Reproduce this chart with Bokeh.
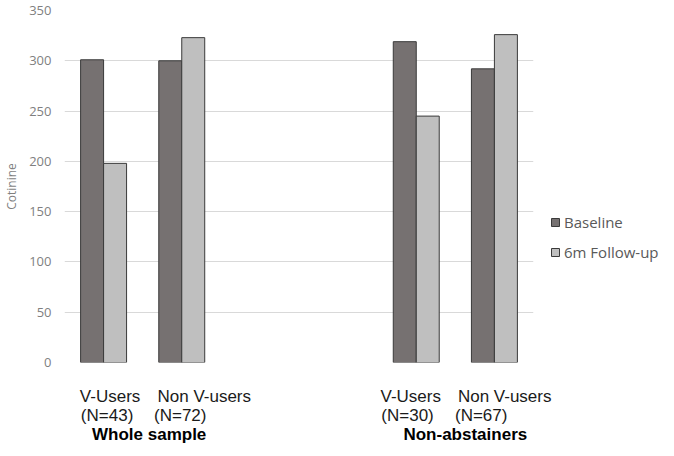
from bokeh.plotting import figure
from bokeh.models import Legend, LegendItem, FixedTicker, Range1d, ColumnDataSource, LinearAxis
from bokeh.embed import file_html
from bokeh.resources import INLINE

# ---- data ----
categories = ["V-Users", "Non V-users", "V-Users", "Non V-users"]
sample_sizes = ["(N=43)", "(N=72)", "(N=30)", "(N=67)"]
groups = ["Whole sample", "Non-abstainers"]
baseline = [301, 300, 319, 292]
followup = [198, 323, 245, 326]
series_names = ["Baseline", "6m Follow-up"]
y_ticks = [0, 50, 100, 150, 200, 250, 300, 350]

# ---- layout (slot units along x; 6 slots, two left empty between the groups) ----
slots = [0.5, 1.5, 4.5, 5.5]
half = 0.147
slot_px = 469 / 6.0
name_dx = [6.5, 22.5, -5.5, 10.3]     # px shifts of text blocks (as in the original)
size_dx = [3.5, -1.5, -8.7, -13.2]
group_dx = [6.5, 10.0]

src_b = ColumnDataSource(dict(x=[s - half for s in slots], top=baseline))
src_f = ColumnDataSource(dict(x=[s + half for s in slots], top=followup))

p = figure(frame_width=469, frame_height=352, output_backend="svg", toolbar_location=None,
           x_range=Range1d(0, 6), y_range=Range1d(0, 350), x_axis_type=None,
           min_border_left=63, min_border_top=10, min_border_bottom=78, min_border_right=126)
p.outline_line_color = None

rb = p.vbar(x="x", top="top", bottom=0, width=2 * half, source=src_b,
            fill_color="#767171", line_color="#3a3a3a", line_width=1)
rf = p.vbar(x="x", top="top", bottom=0, width=2 * half, source=src_f,
            fill_color="#bfbfbf", line_color="#3a3a3a", line_width=1)

p.xgrid.visible = False
p.ygrid.grid_line_color = "#d9d9d9"
p.ygrid.grid_line_width = 1

p.yaxis.ticker = FixedTicker(ticks=y_ticks)
p.yaxis.axis_line_color = None
p.yaxis.major_tick_line_color = None
p.yaxis.minor_tick_line_color = None
p.yaxis.major_tick_out = 0
p.yaxis.major_tick_in = 0
p.yaxis.minor_tick_out = 0
p.yaxis.major_label_standoff = 13
p.yaxis.major_label_text_font = "Open Sans"
p.yaxis.major_label_text_font_size = "13px"
p.yaxis.major_label_text_color = "#7f7f7f"
p.yaxis.axis_label = "Cotinine"
p.yaxis.axis_label_standoff = 6
p.yaxis.axis_label_text_font = "Open Sans"
p.yaxis.axis_label_text_font_size = "12px"
p.yaxis.axis_label_text_font_style = "normal"
p.yaxis.axis_label_text_color = "#7f7f7f"


def text_axis(positions, labels, standoff, bold=False):
    ticks = [round(t, 4) for t in positions]
    ax = LinearAxis(ticker=FixedTicker(ticks=ticks),
                    major_label_overrides={t: lab for t, lab in zip(ticks, labels)})
    ax.axis_line_color = None
    ax.major_tick_line_color = None
    ax.minor_tick_line_color = None
    ax.major_tick_out = 0
    ax.major_tick_in = 0
    ax.minor_tick_out = 0
    ax.major_label_standoff = standoff
    ax.major_label_text_font = "Liberation Sans"
    ax.major_label_text_font_size = "17px"
    ax.major_label_text_color = "#000000" if bold else "#1a1a1a"
    ax.major_label_text_font_style = "bold" if bold else "normal"
    p.add_layout(ax, "below")


text_axis([s + d / slot_px for s, d in zip(slots, name_dx)], categories, 24)
text_axis([s + d / slot_px for s, d in zip(slots, size_dx)], sample_sizes, -3)
group_centers = [(slots[0] + slots[1]) / 2, (slots[2] + slots[3]) / 2]
text_axis([c + d / slot_px for c, d in zip(group_centers, group_dx)], groups, -3, bold=True)

legend = Legend(items=[LegendItem(label=series_names[0], renderers=[rb]),
                       LegendItem(label=series_names[1], renderers=[rf])],
                location=(17, 100), glyph_width=10, glyph_height=10, label_height=20,
                spacing=10, padding=0, margin=0, label_standoff=4,
                label_text_font="Open Sans", label_text_font_size="15px",
                label_text_color="#595959", border_line_color=None, background_fill_alpha=0)
p.add_layout(legend, "right")

open("out.html", "w").write(file_html(p, INLINE))
